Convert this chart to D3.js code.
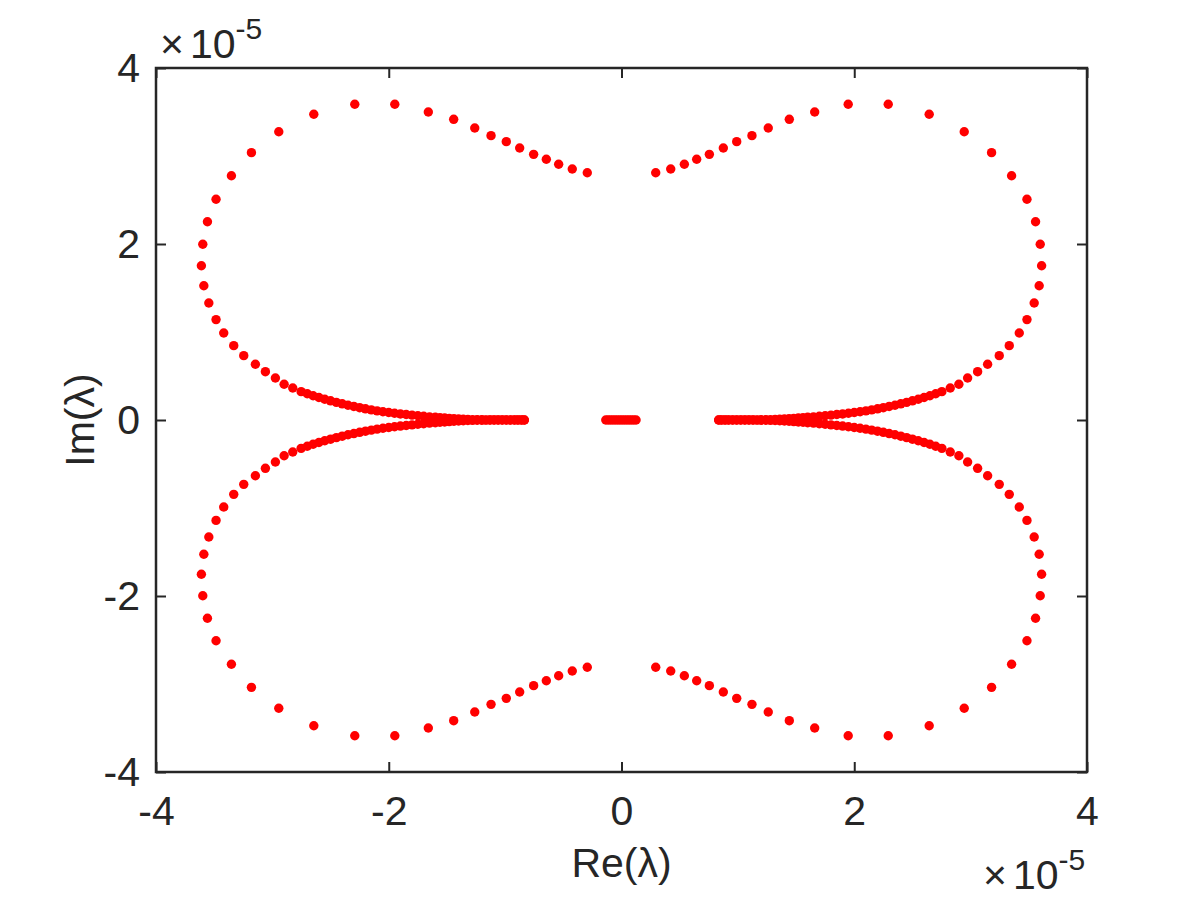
<!DOCTYPE html>
<html>
<head>
<meta charset="utf-8">
<script src="https://cdn.jsdelivr.net/npm/d3@7"></script>
<style>
  html, body { margin: 0; padding: 0; background: #fff; }
  svg { display: block; }
  text { font-family: "Liberation Sans", Arial, Helvetica, sans-serif; fill: #262626; }
</style>
</head>
<body>
<svg id="chart" width="1200" height="900"></svg>
<script>
// ---- data (units of 1e-5) ----
const xTicks = [-4, -2, 0, 2, 4];
const yTicks = [-4, -2, 0, 2, 4];
const xLabel = "Re(λ)";
const yLabel = "Im(λ)";

// upper-right branch (re, im)
const upperRight = [
  [0.294,2.810],[0.423,2.852],[0.540,2.906],[0.646,2.963],[0.755,3.019],[0.875,3.091],
  [0.990,3.163],[1.121,3.231],[1.261,3.318],[1.442,3.417],[1.660,3.500],[1.948,3.588],
  [2.292,3.588],[2.644,3.474],[2.945,3.276],[3.180,3.038],[3.352,2.776],[3.484,2.508],
  [3.558,2.253],[3.598,1.997],[3.610,1.753],[3.589,1.526],[3.546,1.330],[3.484,1.141],
  [3.418,0.989],[3.332,0.845],[3.246,0.731],[3.146,0.634],[3.060,0.549],[2.974,0.477],
  [2.899,0.406],[2.825,0.364],[2.753,0.322],[2.700,0.298],[2.650,0.276],[2.600,0.256],
  [2.550,0.236],[2.500,0.218],[2.450,0.200],[2.400,0.184],[2.350,0.168],[2.300,0.154],
  [2.250,0.140],[2.200,0.127],[2.150,0.115],[2.100,0.104],[2.050,0.094],[2.000,0.085],
  [1.950,0.077],[1.900,0.069],[1.850,0.062],[1.800,0.055],[1.750,0.048],[1.700,0.042],
  [1.650,0.036],[1.600,0.031],[1.560,0.026],[1.520,0.022],[1.480,0.018],[1.440,0.014],
  [1.400,0.011],[1.360,0.008],[1.320,0.006],[1.280,0.004],[1.240,0.003],[1.200,0.002],
  [1.165,0.001],[1.130,0],[1.095,0],[1.060,0],[1.025,0],[0.990,0],[0.955,0],[0.920,0],
  [0.890,0],[0.860,0],[0.835,0]
];
// lower-right branch
const lowerRight = [
  [0.294,-2.810],[0.423,-2.852],[0.540,-2.906],[0.646,-2.963],[0.755,-3.019],[0.875,-3.091],
  [0.990,-3.163],[1.121,-3.231],[1.261,-3.318],[1.442,-3.417],[1.660,-3.500],[1.948,-3.588],
  [2.292,-3.588],[2.644,-3.474],[2.945,-3.276],[3.180,-3.038],[3.352,-2.776],[3.484,-2.508],
  [3.558,-2.253],[3.598,-1.997],[3.610,-1.753],[3.589,-1.526],[3.546,-1.330],[3.484,-1.141],
  [3.418,-0.989],[3.332,-0.845],[3.246,-0.731],[3.146,-0.634],[3.060,-0.549],[2.974,-0.477],
  [2.899,-0.406],[2.825,-0.364],[2.753,-0.322],[2.700,-0.298],[2.650,-0.276],[2.600,-0.256],
  [2.550,-0.236],[2.500,-0.218],[2.450,-0.200],[2.400,-0.184],[2.350,-0.168],[2.300,-0.154],
  [2.250,-0.140],[2.200,-0.127],[2.150,-0.115],[2.100,-0.104],[2.050,-0.094],[2.000,-0.085],
  [1.950,-0.077],[1.900,-0.069],[1.850,-0.062],[1.800,-0.055],[1.750,-0.048],[1.700,-0.042],
  [1.650,-0.036],[1.600,-0.031],[1.560,-0.026],[1.520,-0.022],[1.480,-0.018],[1.440,-0.014],
  [1.400,-0.011],[1.360,-0.008],[1.320,-0.006],[1.280,-0.004],[1.240,-0.003],[1.200,-0.002],
  [1.165,-0.001],[1.130,0],[1.095,0],[1.060,0],[1.025,0],[0.990,0],[0.955,0],[0.920,0],
  [0.890,0],[0.860,0],[0.835,0]
];
// upper-left branch
const upperLeft = [
  [-0.294,2.810],[-0.423,2.852],[-0.540,2.906],[-0.646,2.963],[-0.755,3.019],[-0.875,3.091],
  [-0.990,3.163],[-1.121,3.231],[-1.261,3.318],[-1.442,3.417],[-1.660,3.500],[-1.948,3.588],
  [-2.292,3.588],[-2.644,3.474],[-2.945,3.276],[-3.180,3.038],[-3.352,2.776],[-3.484,2.508],
  [-3.558,2.253],[-3.598,1.997],[-3.610,1.753],[-3.589,1.526],[-3.546,1.330],[-3.484,1.141],
  [-3.418,0.989],[-3.332,0.845],[-3.246,0.731],[-3.146,0.634],[-3.060,0.549],[-2.974,0.477],
  [-2.899,0.406],[-2.825,0.364],[-2.753,0.322],[-2.700,0.298],[-2.650,0.276],[-2.600,0.256],
  [-2.550,0.236],[-2.500,0.218],[-2.450,0.200],[-2.400,0.184],[-2.350,0.168],[-2.300,0.154],
  [-2.250,0.140],[-2.200,0.127],[-2.150,0.115],[-2.100,0.104],[-2.050,0.094],[-2.000,0.085],
  [-1.950,0.077],[-1.900,0.069],[-1.850,0.062],[-1.800,0.055],[-1.750,0.048],[-1.700,0.042],
  [-1.650,0.036],[-1.600,0.031],[-1.560,0.026],[-1.520,0.022],[-1.480,0.018],[-1.440,0.014],
  [-1.400,0.011],[-1.360,0.008],[-1.320,0.006],[-1.280,0.004],[-1.240,0.003],[-1.200,0.002],
  [-1.165,0.001],[-1.130,0],[-1.095,0],[-1.060,0],[-1.025,0],[-0.990,0],[-0.955,0],[-0.920,0],
  [-0.890,0],[-0.860,0],[-0.835,0]
];
// lower-left branch
const lowerLeft = [
  [-0.294,-2.810],[-0.423,-2.852],[-0.540,-2.906],[-0.646,-2.963],[-0.755,-3.019],[-0.875,-3.091],
  [-0.990,-3.163],[-1.121,-3.231],[-1.261,-3.318],[-1.442,-3.417],[-1.660,-3.500],[-1.948,-3.588],
  [-2.292,-3.588],[-2.644,-3.474],[-2.945,-3.276],[-3.180,-3.038],[-3.352,-2.776],[-3.484,-2.508],
  [-3.558,-2.253],[-3.598,-1.997],[-3.610,-1.753],[-3.589,-1.526],[-3.546,-1.330],[-3.484,-1.141],
  [-3.418,-0.989],[-3.332,-0.845],[-3.246,-0.731],[-3.146,-0.634],[-3.060,-0.549],[-2.974,-0.477],
  [-2.899,-0.406],[-2.825,-0.364],[-2.753,-0.322],[-2.700,-0.298],[-2.650,-0.276],[-2.600,-0.256],
  [-2.550,-0.236],[-2.500,-0.218],[-2.450,-0.200],[-2.400,-0.184],[-2.350,-0.168],[-2.300,-0.154],
  [-2.250,-0.140],[-2.200,-0.127],[-2.150,-0.115],[-2.100,-0.104],[-2.050,-0.094],[-2.000,-0.085],
  [-1.950,-0.077],[-1.900,-0.069],[-1.850,-0.062],[-1.800,-0.055],[-1.750,-0.048],[-1.700,-0.042],
  [-1.650,-0.036],[-1.600,-0.031],[-1.560,-0.026],[-1.520,-0.022],[-1.480,-0.018],[-1.440,-0.014],
  [-1.400,-0.011],[-1.360,-0.008],[-1.320,-0.006],[-1.280,-0.004],[-1.240,-0.003],[-1.200,-0.002],
  [-1.165,-0.001],[-1.130,0],[-1.095,0],[-1.060,0],[-1.025,0],[-0.990,0],[-0.955,0],[-0.920,0],
  [-0.890,0],[-0.860,0],[-0.835,0]
];
// small real eigenvalues near the origin
const centre = [
  [-0.135,0],[-0.115,0],[-0.095,0],[-0.075,0],[-0.055,0],[-0.035,0],[-0.015,0],
  [0.005,0],[0.025,0],[0.045,0],[0.065,0],[0.085,0],[0.105,0],[0.125,0]
];

// ---- layout ----
const svg = d3.select("#chart");
const L = 156, R = 1087, T = 68, B = 772;
const x = d3.scaleLinear().domain([-4, 4]).range([L, R]);
const y = d3.scaleLinear().domain([-4, 4]).range([B, T]);
const axisColor = "#262626";
const fs = 41;

const allPts = [].concat(upperRight, lowerRight, upperLeft, lowerLeft, centre);

// points
svg.append("g").selectAll("circle").data(allPts).join("circle")
  .attr("cx", d => x(d[0])).attr("cy", d => y(d[1]))
  .attr("r", 4.7).attr("fill", "#ff0000");

// axes
function styleAxis(g, showText) {
  g.select(".domain").remove();
  g.selectAll(".tick line").attr("stroke", axisColor).attr("stroke-width", 2);
  g.selectAll(".tick text").attr("font-size", fs).style("fill", axisColor);
  if (!showText) g.selectAll(".tick text").remove();
}
const fmt = d => d3.format("")(d).replace("−", "-");

svg.append("g").attr("transform", `translate(0,${B})`)
  .call(d3.axisBottom(x).tickValues(xTicks).tickFormat(fmt).tickSizeInner(-10).tickSizeOuter(0).tickPadding(24))
  .call(g => styleAxis(g, true));
svg.append("g").attr("transform", `translate(0,${T})`)
  .call(d3.axisTop(x).tickValues(xTicks).tickSizeInner(-10).tickSizeOuter(0))
  .call(g => styleAxis(g, false));
svg.append("g").attr("transform", `translate(${L},0)`)
  .call(d3.axisLeft(y).tickValues(yTicks).tickFormat(fmt).tickSizeInner(-10).tickSizeOuter(0).tickPadding(16))
  .call(g => styleAxis(g, true));
svg.append("g").attr("transform", `translate(${R},0)`)
  .call(d3.axisRight(y).tickValues(yTicks).tickSizeInner(-10).tickSizeOuter(0))
  .call(g => styleAxis(g, false));

// box
svg.append("rect").attr("x", L).attr("y", T).attr("width", R - L).attr("height", B - T)
  .attr("fill", "none").attr("stroke", axisColor).attr("stroke-width", 2.5);

// axis labels
svg.append("text").attr("x", (L + R) / 2).attr("y", 877).attr("text-anchor", "middle")
  .attr("font-size", fs).text(xLabel);
svg.append("text").attr("transform", `translate(94,${(T + B) / 2}) rotate(-90)`)
  .attr("text-anchor", "middle").attr("font-size", fs).text(yLabel);

// exponent labels
function expLabel(xp, yb) {
  const t = svg.append("text").attr("x", xp).attr("y", yb).attr("font-size", fs);
  t.append("tspan").text("×");
  t.append("tspan").attr("dx", 6).text("10");
  t.append("tspan").attr("dy", -19).attr("font-size", 30).text("-5");
}
expLabel(160, 58);
expLabel(983, 889);
</script>
</body>
</html>
